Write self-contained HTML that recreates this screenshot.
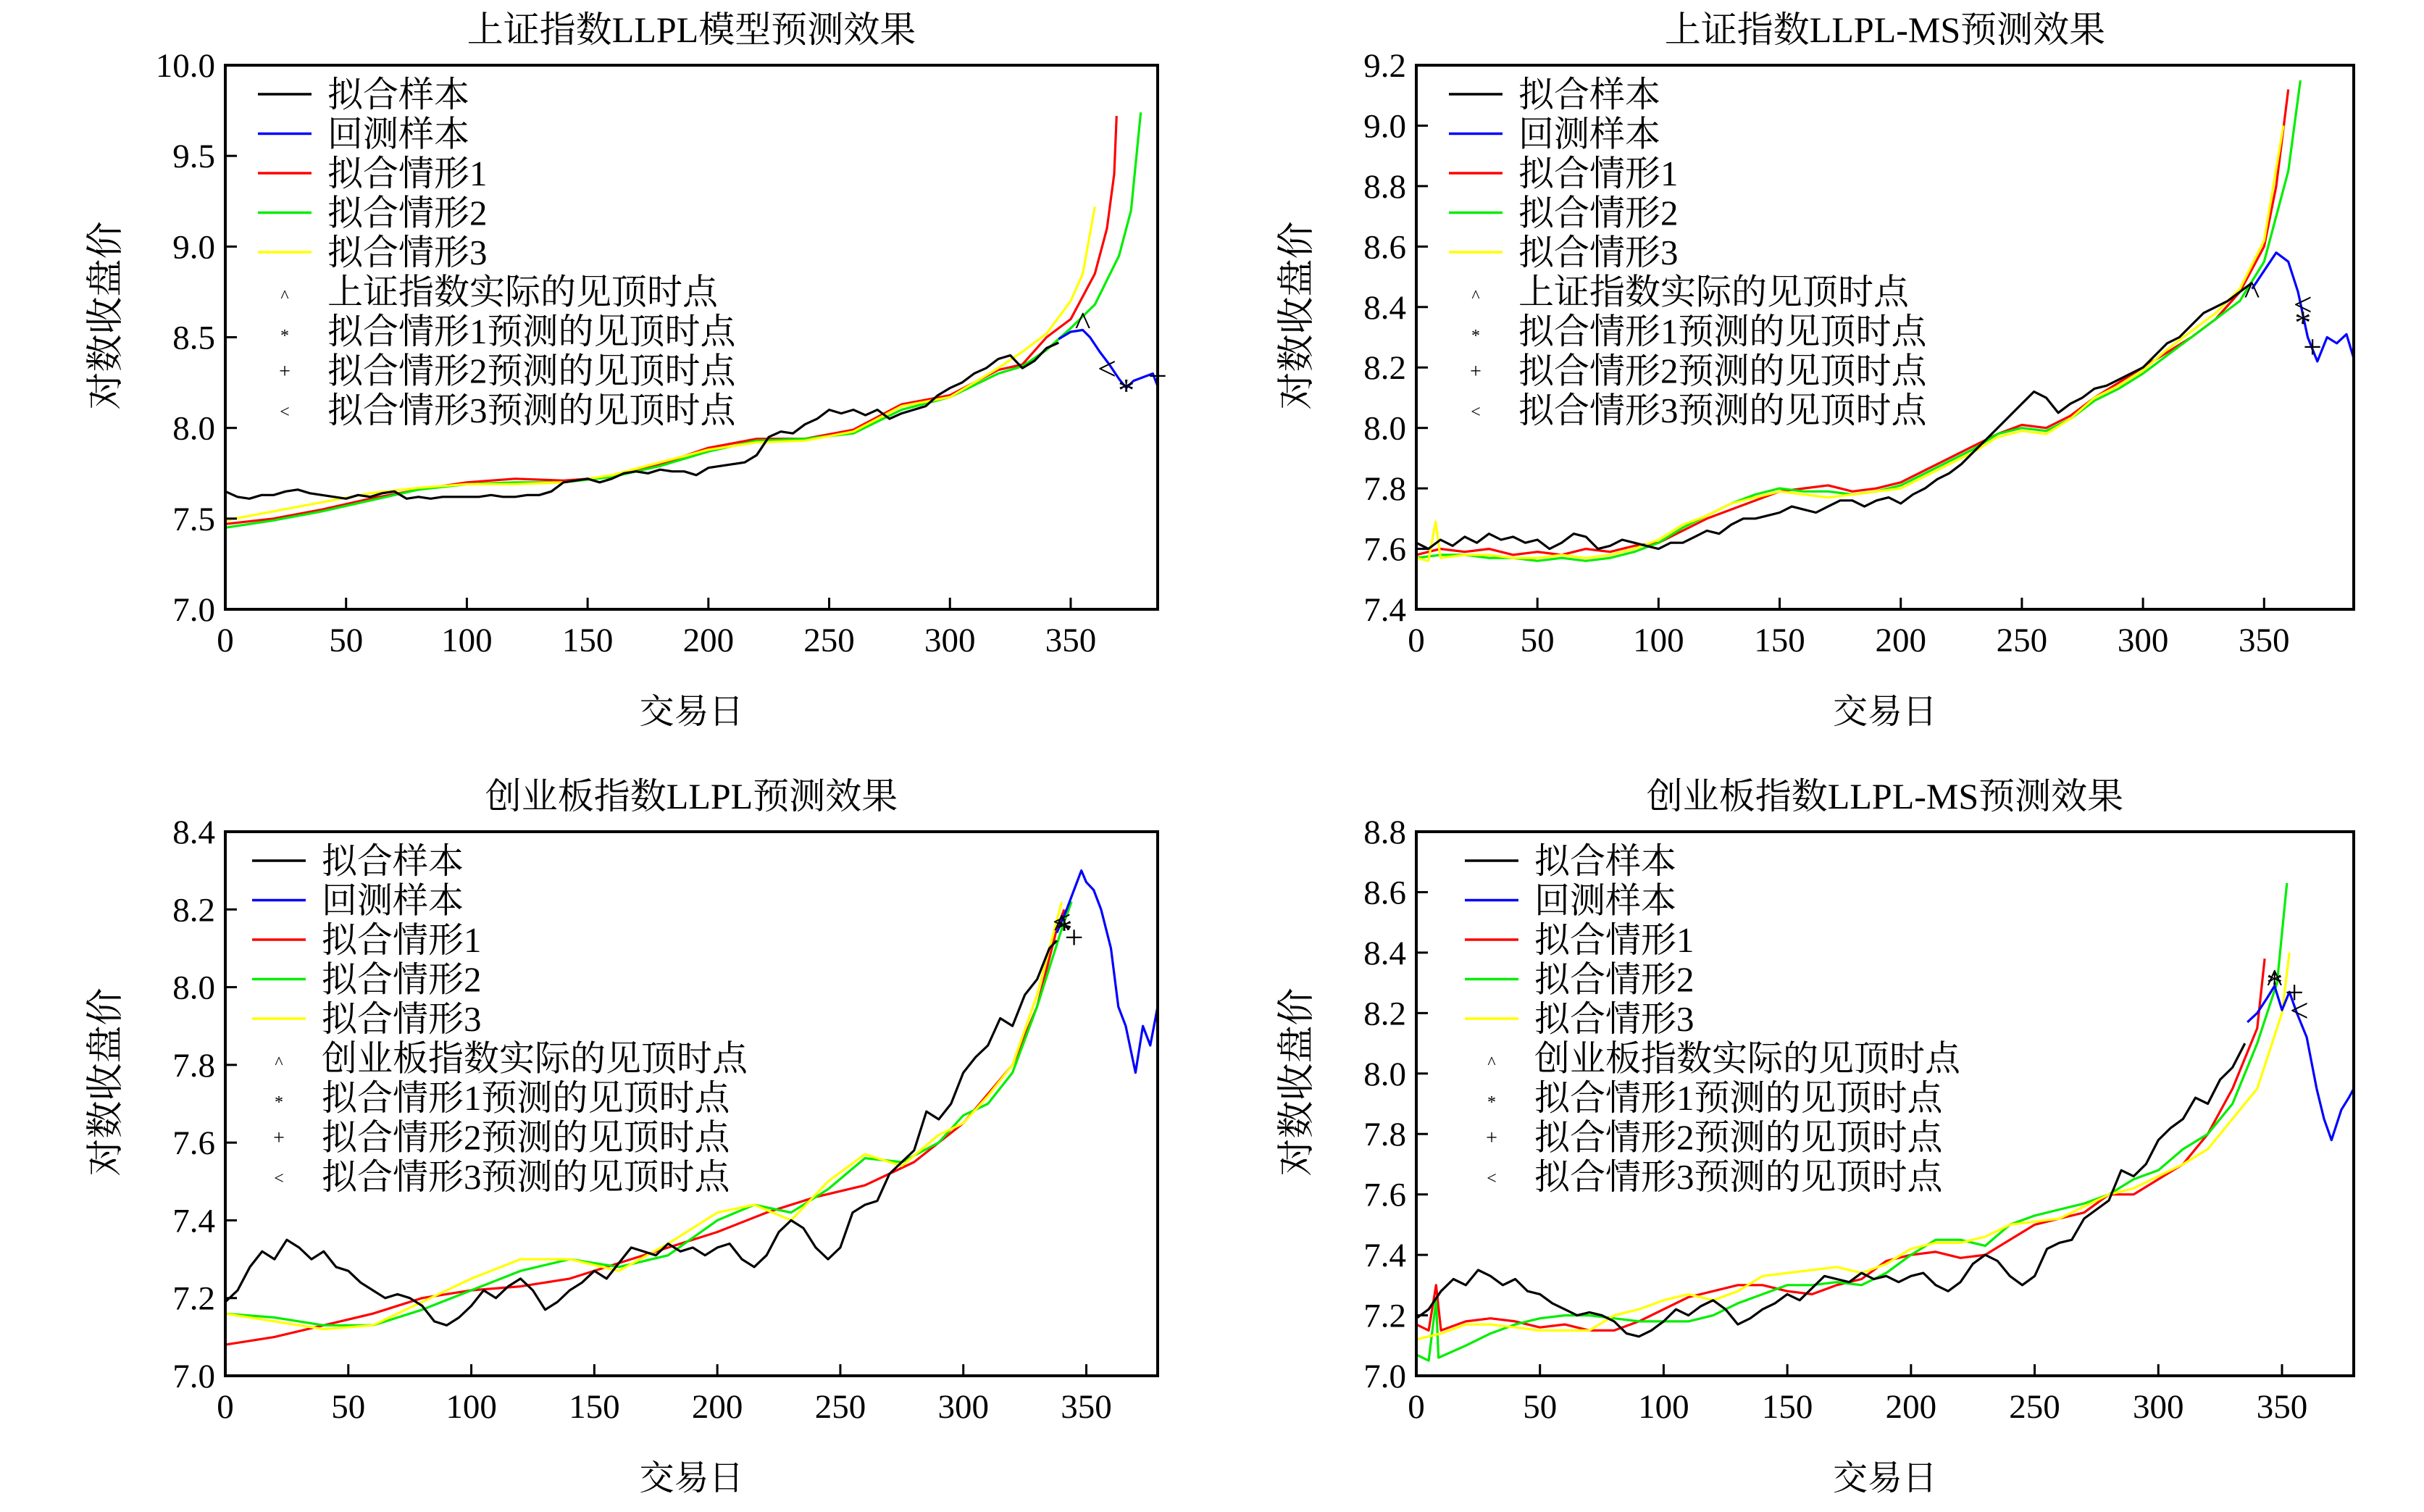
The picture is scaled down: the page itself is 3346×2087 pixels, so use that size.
<!DOCTYPE html>
<html><head><meta charset="utf-8">
<style>
html,body{margin:0;padding:0;background:#fff;}
svg{display:block;}
text{font-family:"Liberation Serif","Noto Serif CJK SC",serif;fill:#000;}
</style></head>
<body>
<svg id="chart" width="3346" height="2087" viewBox="0 0 3346 2087" xmlns="http://www.w3.org/2000/svg"></svg>
<script>
// ---------- Data ----------
const xTicks = [0,50,100,150,200,250,300,350];
const legendLabels = ["拟合样本","回测样本","拟合情形1","拟合情形2","拟合情形3"];
const titles = ["上证指数LLPL模型预测效果","上证指数LLPL-MS预测效果","创业板指数LLPL预测效果","创业板指数LLPL-MS预测效果"];
const markerLabels1 = ["上证指数实际的见顶时点","上证指数实际的见顶时点","创业板指数实际的见顶时点","创业板指数实际的见顶时点"];
const yTicks1 = ["7.0","7.5","8.0","8.5","9.0","9.5","10.0"];
const yTicks2 = ["7.4","7.6","7.8","8.0","8.2","8.4","8.6","8.8","9.0","9.2"];
const yTicks3 = ["7.0","7.2","7.4","7.6","7.8","8.0","8.2","8.4"];
const yTicks4 = ["7.0","7.2","7.4","7.6","7.8","8.0","8.2","8.4","8.6","8.8"];

const p1Black = [[0,7.65],[5,7.62],[10,7.61],[15,7.63],[20,7.63],[25,7.65],[30,7.66],[35,7.64],[40,7.63],[45,7.62],[50,7.61],[55,7.63],[60,7.62],[65,7.64],[70,7.65],[75,7.61],[80,7.62],[85,7.61],[90,7.62],[95,7.62],[100,7.62],[105,7.62],[110,7.63],[115,7.62],[120,7.62],[125,7.63],[130,7.63],[135,7.65],[140,7.70],[145,7.71],[150,7.72],[155,7.70],[160,7.72],[165,7.75],[170,7.76],[175,7.75],[180,7.77],[185,7.76],[190,7.76],[195,7.74],[200,7.78],[205,7.79],[210,7.80],[215,7.81],[220,7.85],[225,7.95],[230,7.98],[235,7.97],[240,8.02],[245,8.05],[250,8.10],[255,8.08],[260,8.10],[265,8.07],[270,8.10],[275,8.05],[280,8.08],[285,8.10],[290,8.12],[295,8.18],[300,8.22],[305,8.25],[310,8.30],[315,8.33],[320,8.38],[325,8.40],[330,8.33],[335,8.37],[340,8.44],[345,8.47]];
const p1Blue = [[345,8.49],[350,8.53],[355,8.54],[358,8.50],[362,8.42],[366,8.35],[370,8.27],[373,8.22],[376,8.26],[380,8.28],[384,8.30],[386,8.23]];
const p1Red = [[0,7.47],[20,7.50],[40,7.55],[60,7.61],[80,7.66],[100,7.70],[120,7.72],[140,7.71],[160,7.73],[180,7.80],[200,7.89],[220,7.94],[240,7.94],[260,7.99],[280,8.13],[300,8.18],[320,8.32],[330,8.35],[340,8.50],[350,8.60],[360,8.85],[365,9.10],[368,9.40],[369,9.72]];
const p1Green = [[0,7.45],[20,7.49],[40,7.54],[60,7.60],[80,7.66],[100,7.69],[120,7.70],[140,7.70],[160,7.73],[180,7.79],[200,7.87],[220,7.93],[240,7.94],[260,7.97],[280,8.10],[300,8.17],[320,8.30],[330,8.34],[340,8.43],[350,8.55],[360,8.68],[370,8.95],[375,9.20],[379,9.74]];
const p1Yellow = [[0,7.49],[20,7.54],[40,7.59],[60,7.64],[80,7.67],[100,7.69],[120,7.69],[140,7.70],[160,7.74],[180,7.81],[200,7.88],[220,7.92],[240,7.93],[260,7.98],[280,8.12],[300,8.17],[320,8.33],[330,8.42],[340,8.52],[350,8.70],[355,8.85],[360,9.22]];
const p1Marks = [[355,8.58,"^"],[373,8.21,"*"],[386,8.29,"+"],[365,8.33,"<"]];

const p2Black = [[0,7.62],[5,7.60],[10,7.63],[15,7.61],[20,7.64],[25,7.62],[30,7.65],[35,7.63],[40,7.64],[45,7.62],[50,7.63],[55,7.60],[60,7.62],[65,7.65],[70,7.64],[75,7.60],[80,7.61],[85,7.63],[90,7.62],[95,7.61],[100,7.60],[105,7.62],[110,7.62],[115,7.64],[120,7.66],[125,7.65],[130,7.68],[135,7.70],[140,7.70],[145,7.71],[150,7.72],[155,7.74],[160,7.73],[165,7.72],[170,7.74],[175,7.76],[180,7.76],[185,7.74],[190,7.76],[195,7.77],[200,7.75],[205,7.78],[210,7.80],[215,7.83],[220,7.85],[225,7.88],[230,7.92],[235,7.96],[240,8.00],[245,8.04],[250,8.08],[255,8.12],[260,8.10],[265,8.05],[270,8.08],[275,8.10],[280,8.13],[285,8.14],[290,8.16],[295,8.18],[300,8.20],[305,8.24],[310,8.28],[315,8.30],[320,8.34],[325,8.38],[330,8.40],[335,8.42],[340,8.45],[345,8.48]];
const p2Blue = [[345,8.46],[350,8.52],[355,8.58],[360,8.55],[364,8.45],[368,8.30],[372,8.22],[376,8.30],[380,8.28],[384,8.31],[387,8.23]];
const p2Red = [[0,7.58],[10,7.60],[20,7.59],[30,7.60],[40,7.58],[50,7.59],[60,7.58],[70,7.60],[80,7.59],[90,7.61],[100,7.62],[110,7.66],[120,7.70],[130,7.73],[140,7.76],[150,7.79],[160,7.80],[170,7.81],[180,7.79],[190,7.80],[200,7.82],[210,7.86],[220,7.90],[230,7.94],[240,7.98],[250,8.01],[260,8.00],[270,8.04],[280,8.10],[290,8.15],[300,8.20],[310,8.25],[320,8.30],[330,8.36],[340,8.45],[350,8.60],[355,8.80],[360,9.12]];
const p2Green = [[0,7.57],[10,7.58],[20,7.58],[30,7.57],[40,7.57],[50,7.56],[60,7.57],[70,7.56],[80,7.57],[90,7.59],[100,7.62],[110,7.67],[120,7.71],[130,7.75],[140,7.78],[150,7.80],[160,7.79],[170,7.79],[180,7.78],[190,7.79],[200,7.81],[210,7.85],[220,7.89],[230,7.93],[240,7.98],[250,8.00],[260,7.99],[270,8.03],[280,8.09],[290,8.13],[300,8.18],[310,8.24],[320,8.30],[330,8.36],[340,8.42],[350,8.55],[360,8.85],[365,9.15]];
const p2Yellow = [[0,7.57],[5,7.56],[8,7.69],[10,7.57],[20,7.58],[30,7.58],[40,7.57],[50,7.57],[60,7.58],[70,7.57],[80,7.58],[90,7.60],[100,7.63],[110,7.68],[120,7.71],[130,7.75],[140,7.77],[150,7.79],[160,7.78],[170,7.77],[180,7.78],[190,7.79],[200,7.80],[210,7.84],[220,7.88],[230,7.92],[240,7.97],[250,7.99],[260,7.98],[270,8.03],[280,8.10],[290,8.14],[300,8.19],[310,8.26],[320,8.32],[330,8.38],[340,8.46],[350,8.62],[358,9.00]];
const p2Marks = [[345,8.45,"^"],[366,8.35,"*"],[370,8.27,"+"],[366,8.41,"<"]];

const p3Black = [[0,7.19],[5,7.22],[10,7.28],[15,7.32],[20,7.30],[25,7.35],[30,7.33],[35,7.30],[40,7.32],[45,7.28],[50,7.27],[55,7.24],[60,7.22],[65,7.20],[70,7.21],[75,7.20],[80,7.18],[85,7.14],[90,7.13],[95,7.15],[100,7.18],[105,7.22],[110,7.20],[115,7.23],[120,7.25],[125,7.22],[130,7.17],[135,7.19],[140,7.22],[145,7.24],[150,7.27],[155,7.25],[160,7.29],[165,7.33],[170,7.32],[175,7.31],[180,7.34],[185,7.32],[190,7.33],[195,7.31],[200,7.33],[205,7.34],[210,7.30],[215,7.28],[220,7.31],[225,7.37],[230,7.40],[235,7.38],[240,7.33],[245,7.30],[250,7.33],[255,7.42],[260,7.44],[265,7.45],[270,7.52],[275,7.55],[280,7.58],[285,7.68],[290,7.66],[295,7.70],[300,7.78],[305,7.82],[310,7.85],[315,7.92],[320,7.90],[325,7.98],[330,8.02],[335,8.10],[338,8.12]];
const p3Blue = [[338,8.14],[342,8.20],[345,8.25],[348,8.30],[350,8.27],[353,8.25],[356,8.20],[360,8.10],[363,7.95],[366,7.90],[370,7.78],[373,7.90],[376,7.85],[379,7.95]];
const p3Red = [[0,7.08],[20,7.10],[40,7.13],[60,7.16],[80,7.20],[100,7.22],[120,7.23],[140,7.25],[160,7.29],[180,7.33],[200,7.37],[220,7.42],[240,7.46],[260,7.49],[280,7.55],[300,7.65],[320,7.80],[330,7.95],[338,8.15],[341,8.20]];
const p3Green = [[0,7.16],[20,7.15],[40,7.13],[60,7.13],[80,7.17],[100,7.22],[120,7.27],[140,7.30],[160,7.28],[180,7.31],[200,7.40],[215,7.44],[230,7.42],[245,7.48],[260,7.56],[275,7.55],[290,7.60],[300,7.67],[310,7.70],[320,7.78],[330,7.95],[340,8.15],[344,8.22]];
const p3Yellow = [[0,7.16],[20,7.14],[40,7.12],[60,7.13],[80,7.19],[100,7.25],[120,7.30],[140,7.30],[160,7.27],[180,7.34],[200,7.42],[215,7.44],[230,7.40],[245,7.50],[260,7.57],[275,7.54],[290,7.62],[300,7.65],[310,7.72],[320,7.80],[330,7.98],[340,8.22]];
const p3Marks = [[340,8.16,"^"],[341,8.15,"*"],[345,8.13,"+"],[340,8.17,"<"]];

const p4Black = p3Black.filter(function(p){return p[0]<=336;});
const p4Blue = [[336,8.17],[340,8.20],[344,8.25],[347,8.29],[350,8.21],[353,8.27],[356,8.20],[360,8.12],[364,7.95],[367,7.85],[370,7.78],[374,7.88],[377,7.92],[379,7.95]];
const p4Red = [[0,7.17],[5,7.15],[8,7.30],[10,7.15],[20,7.18],[30,7.19],[40,7.18],[50,7.16],[60,7.17],[70,7.15],[80,7.15],[90,7.18],[100,7.22],[110,7.26],[120,7.28],[130,7.30],[140,7.30],[150,7.28],[160,7.27],[170,7.30],[180,7.32],[190,7.38],[200,7.40],[210,7.41],[220,7.39],[230,7.40],[240,7.45],[250,7.50],[260,7.52],[270,7.54],[280,7.60],[290,7.60],[300,7.65],[310,7.70],[320,7.80],[330,7.95],[340,8.15],[343,8.38]];
const p4Green = [[0,7.07],[5,7.05],[8,7.25],[9,7.06],[20,7.10],[30,7.14],[40,7.17],[50,7.19],[60,7.20],[70,7.20],[80,7.19],[90,7.18],[100,7.18],[110,7.18],[120,7.20],[130,7.24],[140,7.27],[150,7.30],[160,7.30],[170,7.31],[180,7.30],[190,7.34],[200,7.40],[210,7.45],[220,7.45],[230,7.43],[240,7.50],[250,7.53],[260,7.55],[270,7.57],[280,7.60],[290,7.65],[300,7.68],[310,7.75],[320,7.80],[330,7.90],[340,8.10],[348,8.30],[352,8.63]];
const p4Yellow = [[0,7.12],[10,7.14],[20,7.17],[30,7.17],[40,7.16],[50,7.15],[60,7.15],[70,7.15],[80,7.20],[90,7.22],[100,7.25],[110,7.27],[120,7.25],[130,7.28],[140,7.33],[150,7.34],[160,7.35],[170,7.36],[180,7.34],[190,7.37],[200,7.42],[210,7.44],[220,7.44],[230,7.46],[240,7.50],[250,7.51],[260,7.52],[270,7.56],[280,7.60],[290,7.62],[300,7.66],[310,7.70],[320,7.75],[330,7.85],[340,7.95],[350,8.20],[353,8.40]];
const p4Marks = [[347,8.31,"^"],[347,8.30,"*"],[355,8.27,"+"],[357,8.21,"<"]];

// ---------- Rendering ----------
const NS = "http://www.w3.org/2000/svg";
const svg = document.getElementById("chart");
function mk(tag, attrs, parent){
  const e = document.createElementNS(NS, tag);
  for (const k in attrs) e.setAttribute(k, attrs[k]);
  (parent||svg).appendChild(e);
  return e;
}
const colors = ["#000000","#0000ff","#ff0000","#00ee00","#ffff00"];
const panels = [
  {box:[311,90,1598,841], xmax:386, yticks:yTicks1, series:[p1Black,p1Blue,p1Red,p1Green,p1Yellow], marks:p1Marks},
  {box:[1955,90,3249,841], xmax:387, yticks:yTicks2, series:[p2Black,p2Blue,p2Red,p2Green,p2Yellow], marks:p2Marks},
  {box:[311,1148,1598,1899], xmax:379, yticks:yTicks3, series:[p3Black,p3Blue,p3Red,p3Green,p3Yellow], marks:p3Marks},
  {box:[1955,1148,3249,1899], xmax:379, yticks:yTicks4, series:[p4Black,p4Blue,p4Red,p4Green,p4Yellow], marks:p4Marks}
];
const seriesNames = ["fit-sample-line","backtest-sample-line","scenario-1-line","scenario-2-line","scenario-3-line"];
const markNames = ["actual-peak-marker","scenario-1-peak-marker","scenario-2-peak-marker","scenario-3-peak-marker"];

panels.forEach(function(p, i){
  const g = mk("g", {});
  
  
  const [x0,y0,x1,y1] = p.box;
  const ymin = parseFloat(p.yticks[0]), ymax = parseFloat(p.yticks[p.yticks.length-1]);
  const sx = function(v){ return x0 + v/p.xmax*(x1-x0); };
  const sy = function(v){ return y1 - (v-ymin)/(ymax-ymin)*(y1-y0); };
  const cx = (x0+x1)/2;

  const t = mk("text", {x:cx, y:y0-32, "font-size":50, "text-anchor":"middle"}, g);
  t.textContent = titles[i];
  
  

  const clipId = "clip"+i;
  const cp = mk("clipPath", {id:clipId}, g);
  mk("rect", {x:x0, y:y0, width:x1-x0, height:y1-y0}, cp);

  const sg = mk("g", {"clip-path":"url(#"+clipId+")"}, g);
  [2,3,4,0,1].forEach(function(si){
    const d = p.series[si].map(function(pt,k){return (k?"L":"M")+sx(pt[0]).toFixed(1)+","+sy(pt[1]).toFixed(1);}).join("");
    const pl = mk("path", {d:d, fill:"none", stroke:colors[si], "stroke-width":3.2, "stroke-linejoin":"round"}, sg);
    
    
  });
  p.marks.forEach(function(m, mi){
    const mt = mk("text", {x:sx(m[0]), y:sy(m[1])+16, "font-size":46, "text-anchor":"middle", "font-family":"Liberation Sans, sans-serif", fill:"#222"}, g);
    mt.textContent = m[2];
    
    
  });

  const fr = mk("rect", {x:x0, y:y0, width:x1-x0, height:y1-y0, fill:"none", stroke:"#000", "stroke-width":4}, g);
  
  

  p.yticks.forEach(function(lbl){
    const v = parseFloat(lbl), y = sy(v);
    mk("line", {x1:x0, x2:x0+16, y1:y, y2:y, stroke:"#000", "stroke-width":3}, g);
    const tl = mk("text", {x:x0-14, y:y+16, "font-size":47, "text-anchor":"end"}, g);
    tl.textContent = lbl;
    
    
  });
  xTicks.forEach(function(v){
    const x = sx(v);
    mk("line", {x1:x, x2:x, y1:y1, y2:y1-16, stroke:"#000", "stroke-width":3}, g);
    const tl = mk("text", {x:x, y:y1+58, "font-size":47, "text-anchor":"middle"}, g);
    tl.textContent = String(v);
    
    
  });
  const xt = mk("text", {x:cx, y:y1+157, "font-size":48, "text-anchor":"middle"}, g);
  xt.textContent = "交易日";
  
  
  const yc = (y0+y1)/2 - 30;
  const yt = mk("text", {x:0, y:0, "font-size":52, "text-anchor":"middle", transform:"translate("+(x0-148)+","+yc+") rotate(-90)"}, g);
  yt.textContent = "对数收盘价";
  
  

  const lg = mk("g", {}, g);
  
  
  const lx = x0 + 45 + (i===3?22:0) - (i===2?8:0);
  const allLabels = legendLabels.concat([markerLabels1[i],"拟合情形1预测的见顶时点","拟合情形2预测的见顶时点","拟合情形3预测的见顶时点"]);
  const syms = ["^","*","+","<"];
  allLabels.forEach(function(lbl, k){
    const y = y0 + 40 + k*54.5;
    if (k < 5) {
      mk("line", {x1:lx, x2:lx+74, y1:y, y2:y, stroke:colors[k], "stroke-width":3.5}, lg);
    } else {
      const s = mk("text", {x:lx+37, y:y+(k===5?14:k===6?14:10), "font-size":k===7?28:24, "text-anchor":"middle", "font-family":"Liberation Sans, sans-serif"}, lg);
      s.textContent = syms[k-5];
    }
    const tx = mk("text", {x:lx+96, y:y+17, "font-size":49}, lg);
    tx.textContent = lbl;
    
    
  });
});
</script>
</body></html>
